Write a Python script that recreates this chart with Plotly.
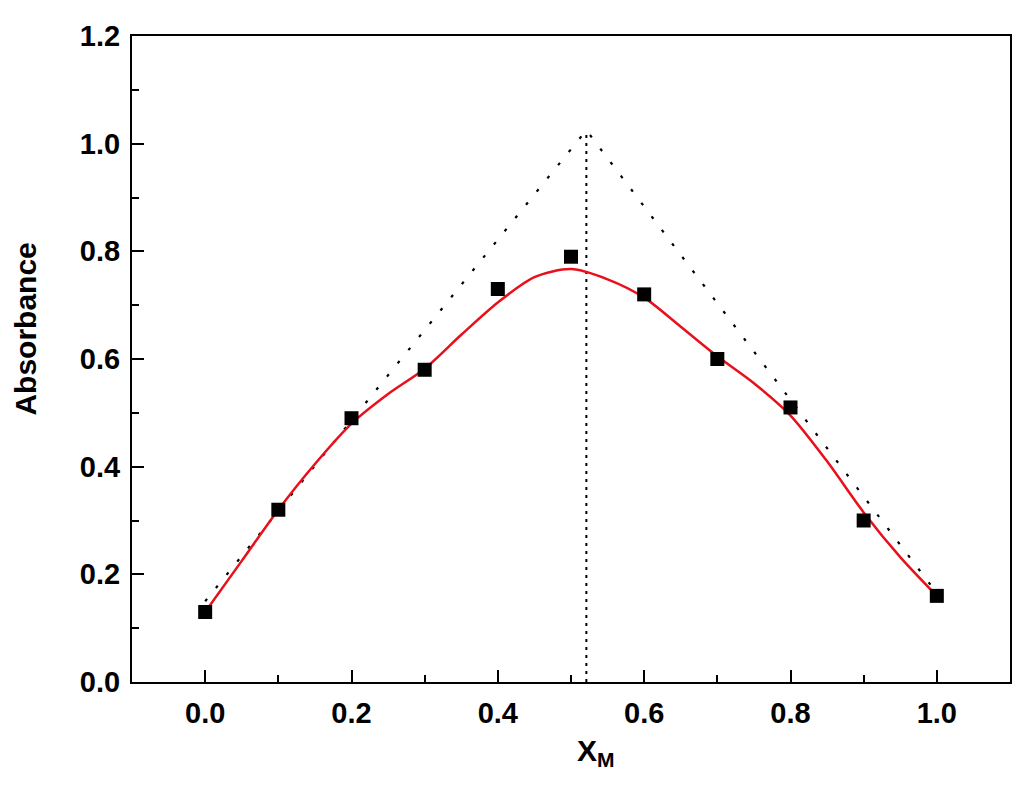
import plotly.graph_objects as go

# Measured data (squares)
x_data = [0.0, 0.1, 0.2, 0.3, 0.4, 0.5, 0.6, 0.7, 0.8, 0.9, 1.0]
y_data = [0.13, 0.32, 0.49, 0.58, 0.73, 0.79, 0.72, 0.60, 0.51, 0.30, 0.16]

# Smooth fitted curve (red)
x_fit = [0.0, 0.05, 0.1, 0.15, 0.2, 0.25, 0.3, 0.35, 0.4, 0.45, 0.5,
         0.55, 0.6, 0.65, 0.7, 0.75, 0.8, 0.85, 0.9, 0.95, 1.0]
y_fit = [0.13, 0.225, 0.32, 0.405, 0.48, 0.535, 0.582, 0.645, 0.705, 0.752, 0.767,
         0.748, 0.714, 0.66, 0.605, 0.555, 0.495, 0.41, 0.315, 0.232, 0.16]

# Tangent (dotted) lines and their intersection
x_tan = [0.0, 0.521, 1.0]
y_tan = [0.15, 1.025, 0.165]
x_vert = [0.521, 0.521]
y_vert = [0.0, 1.025]

font_family = "Liberation Sans, Arial, sans-serif"

fig = go.Figure()
fig.add_trace(go.Scatter(x=x_tan, y=y_tan, mode="lines",
                         line=dict(color="black", width=2.2, dash="3px,14px"),
                         showlegend=False, hoverinfo="skip"))
fig.add_trace(go.Scatter(x=x_vert, y=y_vert, mode="lines",
                         line=dict(color="black", width=2, dash="3px,5px"),
                         showlegend=False, hoverinfo="skip"))
fig.add_trace(go.Scatter(x=x_fit, y=y_fit, mode="lines",
                         line=dict(color="#e8101a", width=2.5, shape="spline", smoothing=0.8),
                         showlegend=False))
fig.add_trace(go.Scatter(x=x_data, y=y_data, mode="markers",
                         marker=dict(symbol="square", size=14, color="black"),
                         showlegend=False))

axis_common = dict(
    showline=True, linecolor="black", linewidth=2, mirror=True,
    ticks="inside", ticklen=12, tickwidth=2, tickcolor="black",
    showgrid=False, zeroline=False,
    tickfont=dict(family=font_family, size=29, color="black", weight="bold"),
    minor=dict(ticks="inside", ticklen=7, tickwidth=2, tickcolor="black"),
)

fig.update_xaxes(range=[-0.1, 1.1], tickvals=[0.0, 0.2, 0.4, 0.6, 0.8, 1.0],
                 ticktext=["0.0", "0.2", "0.4", "0.6", "0.8", "1.0"],
                 minor_dtick=0.1, ticklabelstandoff=4, **axis_common)
fig.update_yaxes(range=[0.0, 1.2], tickvals=[0.0, 0.2, 0.4, 0.6, 0.8, 1.0, 1.2],
                 ticktext=["0.0", "0.2", "0.4", "0.6", "0.8", "1.0", "1.2"],
                 minor_dtick=0.1, ticklabelstandoff=4, **axis_common)

fig.update_layout(
    width=1016, height=780,
    margin=dict(l=124, r=13, t=22, b=106),
    plot_bgcolor="white", paper_bgcolor="white",
    annotations=[
        dict(text="<b>X<sub>M</sub></b>", xref="paper", yref="paper",
             x=0.529, y=-0.077, xanchor="center", yanchor="top", showarrow=False,
             font=dict(family=font_family, size=30, color="black")),
        dict(text="<b>Absorbance</b>", xref="paper", yref="paper",
             x=-0.1215, y=0.546, xanchor="center", yanchor="middle", showarrow=False,
             textangle=-90, borderpad=0,
             font=dict(family=font_family, size=30, color="black")),
    ],
)

fig.write_html("out.html")
